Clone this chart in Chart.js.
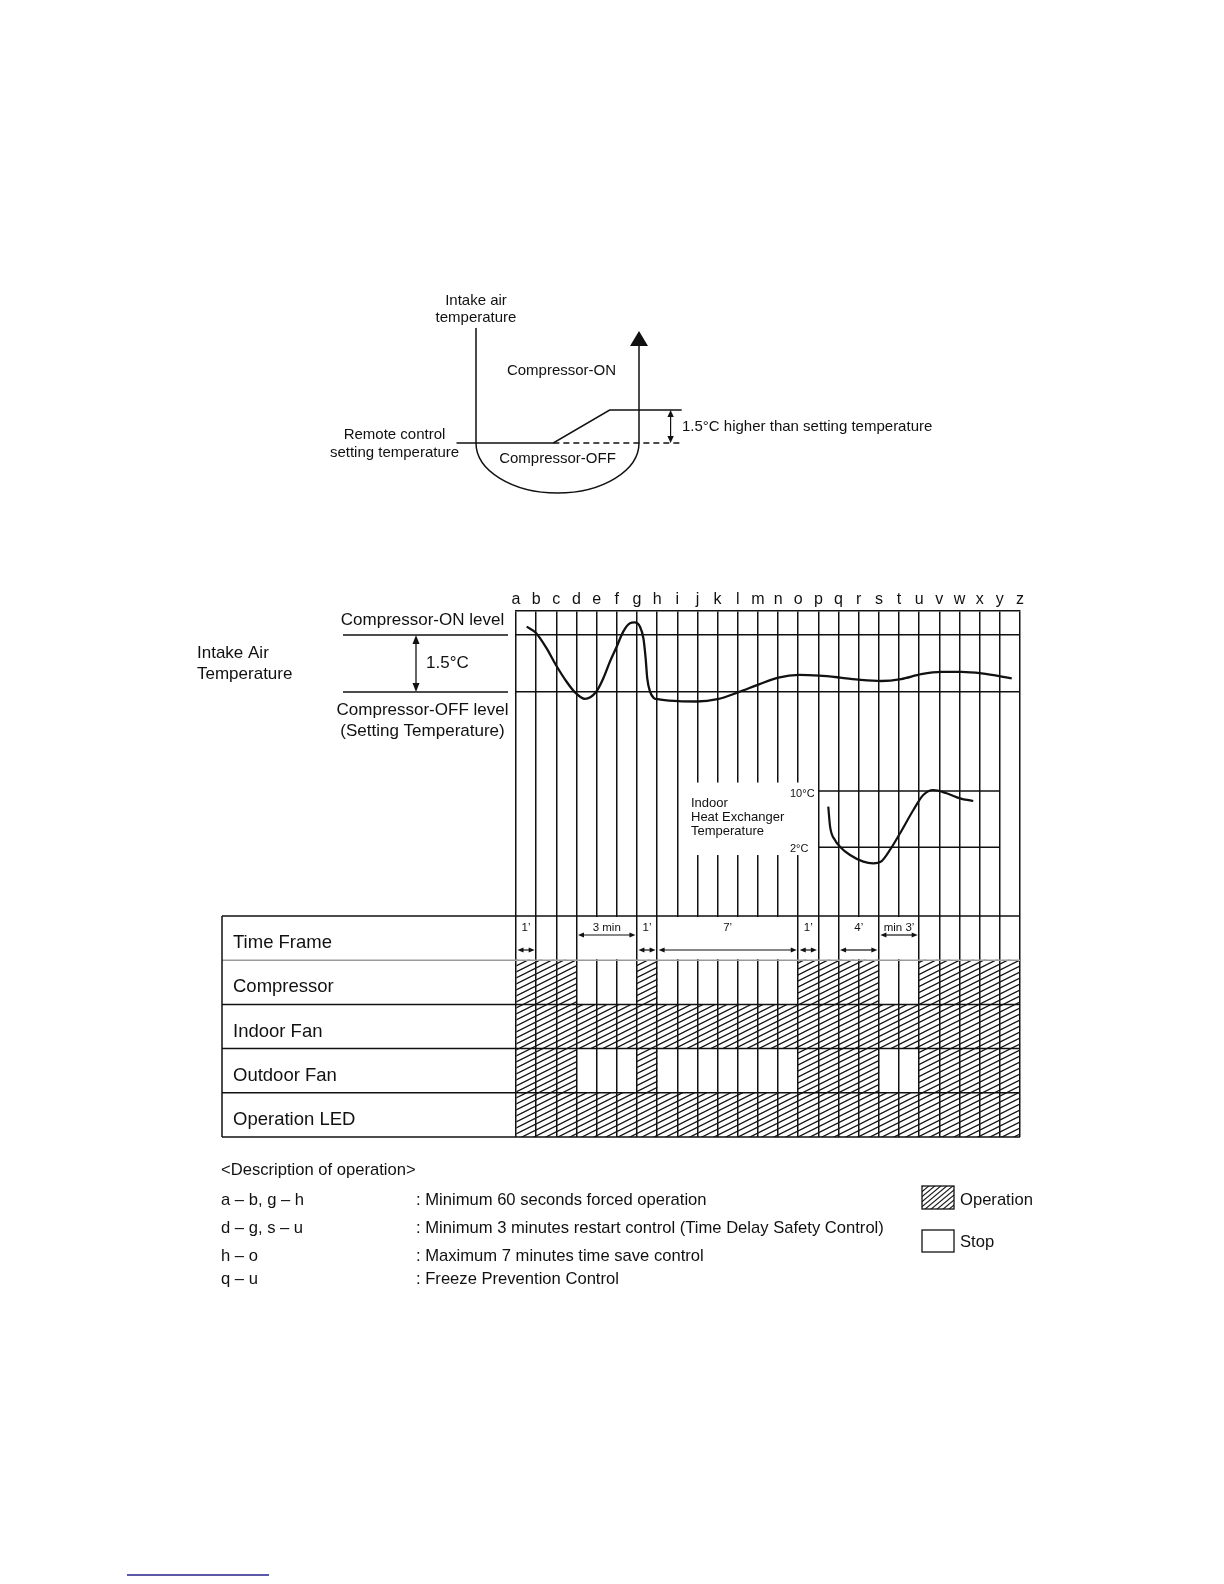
<!DOCTYPE html>
<html lang="en">
<head>
<meta charset="utf-8">
<title>Compressor control timing chart</title>
<script src="https://cdn.jsdelivr.net/npm/chart.js@4.4.1/dist/chart.umd.min.js"></script>
<style>
  html, body { margin: 0; padding: 0; background: #fff; }
  #page { position: relative; width: 1224px; height: 1584px; overflow: hidden; }
  #page canvas { position: absolute; left: 0; top: 0; }
</style>
</head>
<body>
<div id="page">
  <canvas id="loop" width="1224" height="1584"></canvas>
  <canvas id="timing" width="1224" height="1584"></canvas>
</div>
<script>
// time points a..z along the top of the timing chart
const letters = ['a', 'b', 'c', 'd', 'e', 'f', 'g', 'h', 'i', 'j', 'k', 'l', 'm',
                 'n', 'o', 'p', 'q', 'r', 's', 't', 'u', 'v', 'w', 'x', 'y', 'z'];

// hysteresis sketch, degC above the remote control setting
const settingLevel = 0;
const onRise = 1.5;
const loopX = [0, 0.43, 0.68, 1];
const loopY = [0, 0, 1.5, 1.5];
const loopDashX = [0.43, 1];

// intake air temperature, degC above setting (x = column, a = 0 ... z = 25)
const compOnLevel = 1.5;
const compOffLevel = 0;
const intakeX = [0.53, 0.98, 1.52, 1.98, 2.51, 2.93, 3.42, 3.97, 4.33, 4.66,
                 4.96, 5.32, 5.65, 5.87, 6.15, 6.32, 6.43, 6.51, 6.65, 6.82,
                 7.03, 8.05, 8.96, 9.99, 11.01, 12.05, 13.01, 14.04, 15.05, 16.08,
                 17.1, 18.12, 19.1, 20.1, 21.1, 22.1, 23.1, 24.59];
const intakeT = [1.72, 1.56, 1.15, 0.71, 0.27, -0.01, -0.18, 0, 0.36, 0.80,
                 1.15, 1.59, 1.81, 1.83, 1.72, 1.41, 0.89, 0.36, 0.01, -0.15,
                 -0.19, -0.24, -0.25, -0.19, -0.01, 0.20, 0.38, 0.45, 0.43, 0.38,
                 0.32, 0.29, 0.34, 0.47, 0.53, 0.53, 0.49, 0.36];

// indoor heat exchanger temperature, degC
const hxX = [15.49, 15.58, 15.82, 16.07, 16.57, 17.23, 17.72, 18.14, 18.55, 19.05,
             19.71, 20.2, 20.7, 21.36, 22.02, 22.68];
const hxT = [7.77, 4.93, 3.04, 2.09, 0.9, -0.04, -0.27, 0.05, 1.62, 3.99,
             7.3, 9.43, 10.14, 9.67, 8.96, 8.58];
const hxLimits = [10, 2];
const hxSpan = [15, 24]; // p .. y

// table rows, operating intervals [from, to] in columns
const rowNames = ['Time Frame', 'Compressor', 'Indoor Fan', 'Outdoor Fan', 'Operation LED'];
const compressorOn = [[0, 3], [6, 7], [14, 18], [20, 25]];
const indoorFanOn = [[0, 25]];
const outdoorFanOn = [[0, 3], [6, 7], [14, 18], [20, 25]];
const ledOn = [[0, 25]];

// time frame marks
const frameFrom = [0, 3, 6, 7, 14, 16, 18];
const frameTo = [1, 6, 7, 14, 15, 18, 20];
const frameText = ['1’', '3 min', '1’', '7’', '1’', '4’', 'min 3’'];

// description of operation
const descRanges = ['a – b, g – h', 'd – g, s – u', 'h – o', 'q – u'];
const descNotes = [': Minimum 60 seconds forced operation',
                   ': Minimum 3 minutes restart control (Time Delay Safety Control)',
                   ': Maximum 7 minutes time save control',
                   ': Freeze Prevention Control'];

const FONT = '"Liberation Sans", Arial, Helvetica, sans-serif';
const INK = '#111';

function say(ctx, s, x, y, size, align) {
  ctx.font = size + 'px ' + FONT;
  ctx.fillStyle = INK;
  ctx.textAlign = align || 'left';
  ctx.textBaseline = 'middle';
  ctx.fillText(s, x, y);
}
function seg(ctx, x1, y1, x2, y2, w, color, dash) {
  ctx.save();
  ctx.strokeStyle = color || INK;
  ctx.lineWidth = w || 1.3;
  ctx.setLineDash(dash || []);
  ctx.beginPath(); ctx.moveTo(x1, y1); ctx.lineTo(x2, y2); ctx.stroke();
  ctx.restore();
}
function head(ctx, x, y, dx, dy, len, half) {
  ctx.fillStyle = INK;
  ctx.beginPath();
  ctx.moveTo(x, y);
  ctx.lineTo(x - dx * len - dy * half, y - dy * len + dx * half);
  ctx.lineTo(x - dx * len + dy * half, y - dy * len - dx * half);
  ctx.closePath();
  ctx.fill();
}
function dblArrow(ctx, x1, y1, x2, y2, len, half, w) {
  const L = Math.hypot(x2 - x1, y2 - y1), dx = (x2 - x1) / L, dy = (y2 - y1) / L;
  seg(ctx, x1 + dx * len * 0.5, y1 + dy * len * 0.5, x2 - dx * len * 0.5, y2 - dy * len * 0.5, w);
  head(ctx, x2, y2, dx, dy, len, half);
  head(ctx, x1, y1, -dx, -dy, len, half);
}
// tile with one stroke rising to the right ("/"), seamless when repeated
function makeHatch(ctx, w, h, lw) {
  const c = document.createElement('canvas');
  c.width = w; c.height = h;
  const g = c.getContext('2d');
  g.strokeStyle = '#151515';
  g.lineWidth = lw;
  for (const off of [-h, 0, h]) {
    g.beginPath();
    g.moveTo(-w, 2 * h + off);
    g.lineTo(2 * w, -h + off);
    g.stroke();
  }
  return ctx.createPattern(c, 'repeat');
}

// ---------- hysteresis sketch ----------
const loopDecor = {
  id: 'loopDecor',
  afterDraw(chart) {
    const { ctx, scales: { y } } = chart;
    const base = y.getPixelForValue(settingLevel);
    const top = y.getPixelForValue(settingLevel + onRise);
    ctx.save();
    ctx.strokeStyle = INK;
    ctx.lineWidth = 1.5;
    ctx.beginPath();
    ctx.moveTo(476, 328);
    ctx.lineTo(476, base);
    ctx.ellipse(557.5, base, 81.5, 50, 0, Math.PI, 0, true);
    ctx.lineTo(639, 344);
    ctx.stroke();
    ctx.restore();
    head(ctx, 639, 331, 0, -1, 15, 9);
    dblArrow(ctx, 670.6, top, 670.6, base, 7, 3.2, 1.2);

    say(ctx, 'Intake air', 476, 301, 15, 'center');
    say(ctx, 'temperature', 476, 318, 15, 'center');
    say(ctx, 'Compressor-ON', 561.5, 371, 15, 'center');
    say(ctx, 'Compressor-OFF', 557.5, 459, 15, 'center');
    say(ctx, 'Remote control', 394.5, 435, 15, 'center');
    say(ctx, 'setting temperature', 394.5, 453, 15, 'center');
    say(ctx, '1.5°C higher than setting temperature', 682, 427, 15);
  }
};

new Chart(document.getElementById('loop'), {
  type: 'line',
  data: {
    datasets: [
      { data: loopX.map((x, i) => ({ x, y: loopY[i] })), borderColor: INK, borderWidth: 1.5,
        pointRadius: 0, tension: 0, clip: false },
      { data: loopDashX.map(x => ({ x, y: settingLevel })), borderColor: INK, borderWidth: 1.3,
        borderDash: [6, 4], pointRadius: 0, tension: 0, clip: false }
    ]
  },
  options: {
    responsive: false, animation: false, events: [],
    layout: { autoPadding: false, padding: { left: 456.5, right: 1224 - 681.7, top: 410, bottom: 1584 - 443 } },
    scales: {
      x: { type: 'linear', min: 0, max: 1, display: false },
      y: { type: 'linear', min: settingLevel, max: settingLevel + onRise, display: false }
    },
    plugins: { legend: { display: false }, tooltip: { enabled: false } }
  },
  plugins: [loopDecor]
});

// ---------- timing chart ----------
const area = { left: 516, right: 1020, top: 611, bottom: 1137 };
// min/max (and direction) that put value v1 at pixel p1 and v2 at p2
function fit(v1, p1, v2, p2) {
  const k = (p2 - p1) / (v2 - v1);
  const a = v1 + (area.top - p1) / k, b = v1 + (area.bottom - p1) / k;
  return { min: Math.min(a, b), max: Math.max(a, b), reverse: k > 0 };
}
const tCfg = fit(compOffLevel, 692, compOnLevel, 635);
const hCfg = fit(hxLimits[1], 847.3, hxLimits[0], 791);
const rCfg = fit(-0.5, 916, rowNames.length - 0.5, area.bottom);

const tctx = document.getElementById('timing').getContext('2d');
const hatch = makeHatch(tctx, 12, 6, 1.3);
const swatchHatch = makeHatch(tctx, 6, 5, 1.1);

function barsFor(list, row) {
  return list.map(([a, b]) => ({ x: [a, b], y: row }));
}
function hatchRow(list, row) {
  return {
    type: 'bar', indexAxis: 'y', xAxisID: 'x', yAxisID: 'yR',
    data: barsFor(list, row), backgroundColor: hatch, borderWidth: 0,
    barPercentage: 1, categoryPercentage: 1, grouped: false
  };
}

const timingDecor = {
  id: 'timingDecor',
  beforeDatasetsDraw(chart) {
    const { ctx, scales: { x, yR, yH } } = chart;
    ctx.save();
    ctx.fillStyle = '#fff';
    const top = yR.getPixelForValue(-0.5), bot = yR.getPixelForValue(0.5);
    frameFrom.forEach((f, i) => {
      if (frameTo[i] - f < 2) return;
      const a = x.getPixelForValue(f), b = x.getPixelForValue(frameTo[i]);
      ctx.fillRect(a + 1.5, top + 1, b - a - 3, bot - top - 2);
    });
    // blank box behind the heat exchanger caption
    const l = x.getPixelForValue(8.5), r = x.getPixelForValue(14.8);
    const t = yH.getPixelForValue(11.2), b = yH.getPixelForValue(0.9);
    ctx.fillRect(l, t, r - l, b - t);
    ctx.restore();
  },
  afterDatasetsDraw(chart) {
    const { ctx, chartArea: ca, scales: { x, yT, yH, yR } } = chart;
    const tableLeft = 222;

    // table rules and row names
    for (let r = 0; r <= rowNames.length; r++) {
      const py = yR.getPixelForValue(r - 0.5);
      seg(ctx, tableLeft, py, ca.right, py, 1.5, r === 1 ? '#9a9a9a' : INK);
    }
    seg(ctx, tableLeft, yR.getPixelForValue(-0.5), tableLeft, yR.getPixelForValue(rowNames.length - 0.5), 1.5);
    rowNames.forEach((n, r) => say(ctx, n, 233, yR.getPixelForValue(r) + 5, 18.5));

    // time frame arrows
    const rowTop = yR.getPixelForValue(-0.5);
    frameFrom.forEach((f, i) => {
      const a = x.getPixelForValue(f), b = x.getPixelForValue(frameTo[i]);
      const raised = frameText[i].includes('min');
      const ay = rowTop + (raised ? 19 : 34);
      dblArrow(ctx, a + 1.5, ay, b - 1.5, ay, 6, 2.6, 1.2);
      say(ctx, frameText[i], (a + b) / 2, rowTop + 12, 11.5, 'center');
    });

    // intake air temperature labels
    const onPx = yT.getPixelForValue(compOnLevel), offPx = yT.getPixelForValue(compOffLevel);
    seg(ctx, 343, onPx, 508, onPx, 1.5);
    seg(ctx, 343, offPx, 508, offPx, 1.5);
    dblArrow(ctx, 416, onPx, 416, offPx, 9, 3.5, 1.3);
    say(ctx, 'Compressor-ON level', 422.5, onPx - 15, 17, 'center');
    say(ctx, '1.5°C', 426, (onPx + offPx) / 2, 17);
    say(ctx, 'Compressor-OFF level', 422.5, offPx + 18, 17, 'center');
    say(ctx, '(Setting Temperature)', 422.5, offPx + 39, 17, 'center');
    say(ctx, 'Intake Air', 197, 653, 17);
    say(ctx, 'Temperature', 197, 674, 17);

    // heat exchanger labels
    say(ctx, 'Indoor', 691, 803, 13);
    say(ctx, 'Heat Exchanger', 691, 817, 13);
    say(ctx, 'Temperature', 691, 831, 13);
    say(ctx, hxLimits[0] + '°C', 790, yH.getPixelForValue(hxLimits[0]) + 3, 11);
    say(ctx, hxLimits[1] + '°C', 790, yH.getPixelForValue(hxLimits[1]) + 2, 11);

    // description of operation
    say(ctx, '<Description of operation>', 221, 1170, 16.6);
    const descY = [1200, 1228, 1256, 1279.5];
    descRanges.forEach((s, i) => {
      say(ctx, s, 221, descY[i], 16.6);
      say(ctx, descNotes[i], 416, descY[i], 16.6);
    });

    // legend
    ctx.save();
    ctx.fillStyle = swatchHatch;
    ctx.fillRect(922, 1186, 32, 23);
    ctx.strokeStyle = INK;
    ctx.lineWidth = 1.3;
    ctx.strokeRect(922, 1186, 32, 23);
    ctx.strokeRect(922, 1230, 32, 22);
    ctx.restore();
    say(ctx, 'Operation', 960, 1200, 16.6);
    say(ctx, 'Stop', 960, 1242, 16.6);

    // footnote rule
    seg(ctx, 127, 1575, 269, 1575, 1.5, '#22228a');
  }
};

const hidden = { type: 'linear', axis: 'y', display: false, offset: false, grid: { offset: false } };

new Chart(tctx, {
  type: 'line',
  data: {
    datasets: [
      { type: 'line', xAxisID: 'x', yAxisID: 'yT',
        data: intakeX.map((x, i) => ({ x, y: intakeT[i] })),
        borderColor: INK, borderWidth: 2.3, pointRadius: 0, cubicInterpolationMode: 'monotone' },
      { type: 'line', xAxisID: 'x', yAxisID: 'yH',
        data: hxX.map((x, i) => ({ x, y: hxT[i] })),
        borderColor: INK, borderWidth: 2.2, pointRadius: 0, cubicInterpolationMode: 'monotone' },
      ...hxLimits.map(v => ({
        type: 'line', xAxisID: 'x', yAxisID: 'yH',
        data: hxSpan.map(x => ({ x, y: v })),
        borderColor: INK, borderWidth: 1.4, pointRadius: 0, tension: 0
      })),
      hatchRow(compressorOn, 1),
      hatchRow(indoorFanOn, 2),
      hatchRow(outdoorFanOn, 3),
      hatchRow(ledOn, 4)
    ]
  },
  options: {
    responsive: false, animation: false, events: [],
    layout: { autoPadding: false,
              padding: { left: area.left, right: 1224 - area.right, top: area.top - 27, bottom: 1584 - area.bottom } },
    scales: {
      x: {
        type: 'linear', position: 'top', min: 0, max: letters.length - 1, offset: false,
        afterFit: s => { s.height = 27; },
        afterBuildTicks: s => { s.ticks = letters.map((_, i) => ({ value: i })); },
        grid: { color: INK, lineWidth: 1.5, drawTicks: false, offset: false },
        border: { display: true, color: INK, width: 1.5 },
        ticks: { autoSkip: false, maxRotation: 0, padding: 2, color: INK,
                 font: { family: FONT, size: 16 }, callback: (v) => letters[v] }
      },
      yT: {
        type: 'linear', axis: 'y', position: 'left', min: tCfg.min, max: tCfg.max, offset: false,
        afterFit: s => { s.width = 0; },
        afterBuildTicks: s => { s.ticks = [{ value: compOffLevel }, { value: compOnLevel }]; },
        grid: { color: INK, lineWidth: 1.5, drawTicks: false, offset: false },
        border: { display: false },
        ticks: { display: false }
      },
      yH: { ...hidden, min: hCfg.min, max: hCfg.max },
      yR: { ...hidden, min: rCfg.min, max: rCfg.max, reverse: rCfg.reverse,
            afterBuildTicks: s => { s.ticks = [-0.5, 0.5, 1.5, 2.5, 3.5, 4.5].map(v => ({ value: v })); } }
    },
    plugins: { legend: { display: false }, tooltip: { enabled: false } }
  },
  plugins: [timingDecor]
});
</script>
</body>
</html>
